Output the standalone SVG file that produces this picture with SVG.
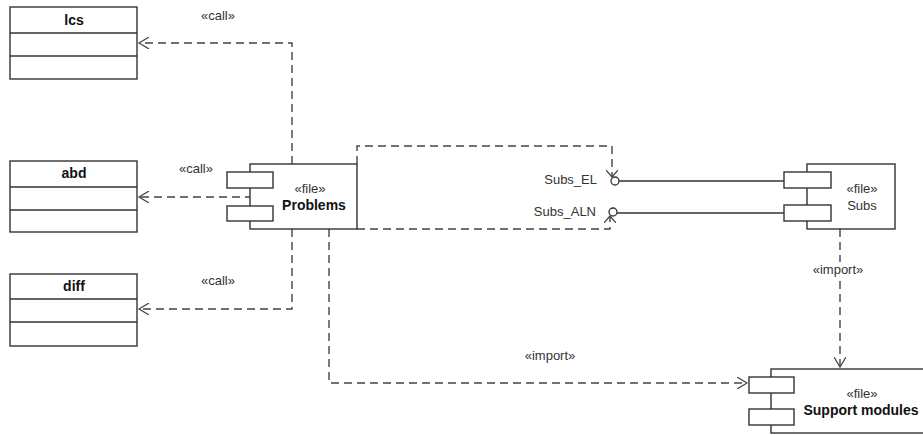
<svg xmlns="http://www.w3.org/2000/svg" width="923" height="435" viewBox="0 0 923 435">
<style>
.box{fill:#fff;stroke:#333;stroke-width:1.4}
.ln{fill:none;stroke:#333;stroke-width:1.4}
.dash{fill:none;stroke:#444;stroke-width:1.4;stroke-dasharray:8 5}
.t{font-family:"Liberation Sans",Arial,sans-serif;font-size:13px;fill:#333}
.b{font-weight:bold;font-size:14px;fill:#111}
.m{text-anchor:middle}
.e{text-anchor:end}
</style>
<defs>
<marker id="open" markerWidth="12" markerHeight="12" refX="10" refY="6" orient="auto" markerUnits="userSpaceOnUse">
<path d="M0,0 L10,6 L0,12" fill="none" stroke="#444" stroke-width="1.2"/>
</marker>
<marker id="small" markerWidth="10" markerHeight="12" refX="7" refY="6" orient="auto" markerUnits="userSpaceOnUse">
<path d="M0,0 L7,6 L0,12" fill="none" stroke="#444" stroke-width="1.2"/>
</marker>
</defs>
<rect width="923" height="435" fill="#fff"/>
<g id="connectors">
<path class="dash" d="M292,164 V43 H139" marker-end="url(#open)"/>
<path class="dash" d="M253,197 H139" marker-end="url(#open)"/>
<path class="dash" d="M292,229 V309 H139" marker-end="url(#open)"/>
<path class="dash" d="M357,164 V146 H612 V177" marker-end="url(#small)"/>
<path class="dash" d="M357,229 H610 V216" marker-end="url(#small)"/>
<path class="dash" d="M329,229 V383 H747" marker-end="url(#open)"/>
<path class="dash" d="M840,229 V367" marker-end="url(#open)"/>
<line class="ln" x1="619" y1="181" x2="784" y2="181"/>
<line class="ln" x1="617" y1="213" x2="784" y2="213"/>
<circle cx="615" cy="181" r="4" fill="#fff" stroke="#333" stroke-width="1.3"/>
<circle cx="613" cy="212" r="4" fill="#fff" stroke="#333" stroke-width="1.3"/>
<text class="t m" x="218" y="20">«call»</text>
<text class="t m" x="196" y="173">«call»</text>
<text class="t m" x="218" y="285">«call»</text>
<rect x="808" y="262" width="62" height="16" fill="#fff"/>
<text class="t m" x="838" y="274">«import»</text>
<text class="t m" x="550" y="360">«import»</text>
<text class="t e" x="597" y="184">Subs_EL</text>
<text class="t e" x="596" y="216">Subs_ALN</text>
</g>
<g id="lcs">
<rect class="box" x="10" y="7" width="127" height="72"/>
<line class="ln" x1="10" y1="33" x2="137" y2="33"/>
<line class="ln" x1="10" y1="56" x2="137" y2="56"/>
<text class="t b m" x="74" y="25">lcs</text>
</g>
<g id="abd">
<rect class="box" x="10" y="161" width="127" height="71"/>
<line class="ln" x1="10" y1="187" x2="137" y2="187"/>
<line class="ln" x1="10" y1="210" x2="137" y2="210"/>
<text class="t b m" x="74" y="178">abd</text>
</g>
<g id="diff">
<rect class="box" x="10" y="274" width="127" height="72"/>
<line class="ln" x1="10" y1="299" x2="137" y2="299"/>
<line class="ln" x1="10" y1="322" x2="137" y2="322"/>
<text class="t b m" x="74" y="291">diff</text>
</g>
<g id="problems">
<rect class="box" x="250" y="164" width="107" height="65"/>
<rect class="box" x="227" y="172" width="46" height="16"/>
<rect class="box" x="227" y="206" width="46" height="15"/>
<text class="t m" x="310" y="193">«file»</text>
<text class="t b m" x="314" y="210">Problems</text>
</g>
<g id="subs">
<rect class="box" x="807" y="164" width="88" height="65"/>
<rect class="box" x="784" y="172" width="47" height="16"/>
<rect class="box" x="784" y="205" width="47" height="16"/>
<text class="t m" x="862" y="193">«file»</text>
<text class="t m" x="862" y="210">Subs</text>
</g>
<g id="support">
<rect class="box" x="771" y="369" width="160" height="64"/>
<rect class="box" x="749" y="377" width="45" height="16"/>
<rect class="box" x="749" y="409" width="45" height="16"/>
<text class="t m" x="862" y="398">«file»</text>
<text class="t b m" x="861" y="415">Support modules</text>
</g>
</svg>
